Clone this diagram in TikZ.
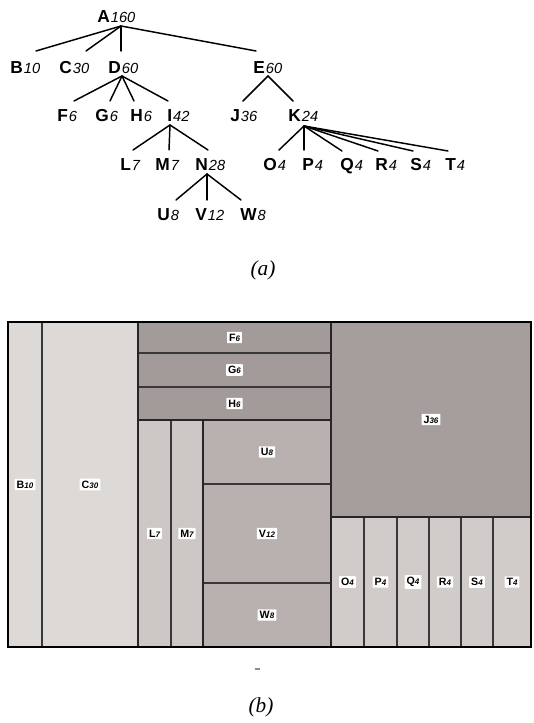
\documentclass[tikz,border=0pt]{standalone}
\usepackage{fontspec}
\setmainfont{Liberation Sans}
\newfontfamily\capfont{Liberation Serif}
\usetikzlibrary{calc}

\definecolor{cLight}{HTML}{DDD9D7}
\definecolor{cDark}{HTML}{A39B99}
\definecolor{cJ}{HTML}{A59E9C}
\definecolor{cLM}{HTML}{CDC7C5}
\definecolor{cUVW}{HTML}{B8B1AF}
\definecolor{cK}{HTML}{D1CBC9}

% tree label: bold capital followed by a smaller italic weight
\newcommand\tl[2]{\textbf{#1}\kern0.8pt{\fontsize{11}{11}\selectfont\itshape #2}}
% treemap label
\newcommand\ml[2]{\textbf{#1}{\fontsize{6}{6}\selectfont\itshape\bfseries #2}}
% treemap cell with centred label
\newcommand\tmcell[6]{%
  \draw[cell,fill=#5] (#1,#2) rectangle (#3,#4);
  \node[tmlab] at ({(#1+#3)/2},{(#2+#4)/2}) {#6};}

\tikzset{
  tn/.style={anchor=base west, inner sep=0pt, font=\fontsize{13}{13}\selectfont},
  edge/.style={line width=1.1pt, line cap=round},
  cell/.style={draw=black!78, line width=1pt},
  tmlab/.style={fill=white, inner sep=1.5pt, rounded corners=0.5pt,
                font=\fontsize{8}{8}\selectfont},
  caption/.style={font=\capfont\itshape\fontsize{16}{16}\selectfont, inner sep=0pt}
}

\begin{document}
\begin{tikzpicture}[x=0.75pt, y=-0.75pt]
\useasboundingbox (0,0) rectangle (533,723);

% ---------- tree ----------
\node[tn] (A) at (97,23) {\tl{A}{160}};
\node[tn] (B) at (10,74) {\tl{B}{10}};
\node[tn] (C) at (59,74) {\tl{C}{30}};
\node[tn] (D) at (108,74) {\tl{D}{60}};
\node[tn] (E) at (253,74) {\tl{E}{60}};
\node[tn] (F) at (57,122) {\tl{F}{6}};
\node[tn] (G) at (95,122) {\tl{G}{6}};
\node[tn] (H) at (130,122) {\tl{H}{6}};
\node[tn] (I) at (167,122) {\tl{I}{42}};
\node[tn] (J) at (230,122) {\tl{J}{36}};
\node[tn] (K) at (288,122) {\tl{K}{24}};
\node[tn] (L) at (120,171) {\tl{L}{7}};
\node[tn] (M) at (155,171) {\tl{M}{7}};
\node[tn] (N) at (195,171) {\tl{N}{28}};
\node[tn] (O) at (263,171) {\tl{O}{4}};
\node[tn] (P) at (302,171) {\tl{P}{4}};
\node[tn] (Q) at (340,171) {\tl{Q}{4}};
\node[tn] (R) at (375,171) {\tl{R}{4}};
\node[tn] (S) at (410,171) {\tl{S}{4}};
\node[tn] (T) at (445,171) {\tl{T}{4}};
\node[tn] (U) at (157,221) {\tl{U}{8}};
\node[tn] (V) at (195,221) {\tl{V}{12}};
\node[tn] (W) at (240,221) {\tl{W}{8}};

\draw[edge] ($(A.base west)+(24,3)$) -- ($(B.base west)+(26,-23)$);
\draw[edge] ($(A.base west)+(24,3)$) -- ($(C.base west)+(27,-23)$);
\draw[edge] ($(A.base west)+(24,3)$) -- ($(D.base west)+(13,-23)$);
\draw[edge] ($(A.base west)+(24,3)$) -- ($(E.base west)+(3,-23)$);

\draw[edge] ($(D.base west)+(14,2)$) -- ($(F.base west)+(17,-21)$);
\draw[edge] ($(D.base west)+(14,2)$) -- ($(G.base west)+(15,-21)$);
\draw[edge] ($(D.base west)+(14,2)$) -- ($(H.base west)+(4,-21)$);
\draw[edge] ($(D.base west)+(14,2)$) -- ($(I.base west)+(1,-21)$);

\draw[edge] ($(E.base west)+(15,2)$) -- ($(J.base west)+(13,-21)$);
\draw[edge] ($(E.base west)+(15,2)$) -- ($(K.base west)+(5,-21)$);

\draw[edge] ($(I.base west)+(3,3)$) -- ($(L.base west)+(13,-21)$);
\draw[edge] ($(I.base west)+(3,3)$) -- ($(M.base west)+(14,-21)$);
\draw[edge] ($(I.base west)+(3,3)$) -- ($(N.base west)+(13,-21)$);

\draw[edge] ($(K.base west)+(16,4)$) -- ($(O.base west)+(16,-21)$);
\draw[edge] ($(K.base west)+(16,4)$) -- ($(P.base west)+(2,-21)$);
\draw[edge] ($(K.base west)+(16,4)$) -- ($(Q.base west)+(2,-20)$);
\draw[edge] ($(K.base west)+(16,4)$) -- ($(R.base west)+(3,-20)$);
\draw[edge] ($(K.base west)+(16,4)$) -- ($(S.base west)+(3,-20)$);
\draw[edge] ($(K.base west)+(16,4)$) -- ($(T.base west)+(3,-20)$);

\draw[edge] ($(N.base west)+(12,3)$) -- ($(U.base west)+(19,-21)$);
\draw[edge] ($(N.base west)+(12,3)$) -- ($(V.base west)+(12,-21)$);
\draw[edge] ($(N.base west)+(12,3)$) -- ($(W.base west)+(1,-21)$);

\node[caption] (capA) at (263,270) {(a)};

% ---------- treemap ----------
\tmcell{8}{322}{42}{647}{cLight}{\ml{B}{10}}
\tmcell{42}{322}{138}{647}{cLight}{\ml{C}{30}}
\tmcell{138}{322}{331}{353}{cDark}{\ml{F}{6}}
\tmcell{138}{353}{331}{387}{cDark}{\ml{G}{6}}
\tmcell{138}{387}{331}{420}{cDark}{\ml{H}{6}}
\tmcell{138}{420}{171}{647}{cLM}{\ml{L}{7}}
\tmcell{171}{420}{203}{647}{cLM}{\ml{M}{7}}
\tmcell{203}{420}{331}{484}{cUVW}{\ml{U}{8}}
\tmcell{203}{484}{331}{583}{cUVW}{\ml{V}{12}}
\tmcell{203}{583}{331}{647}{cUVW}{\ml{W}{8}}
\tmcell{331}{322}{531}{517}{cJ}{\ml{J}{36}}
\tmcell{331}{517}{364}{647}{cK}{\ml{O}{4}}
\tmcell{364}{517}{397}{647}{cK}{\ml{P}{4}}
\tmcell{397}{517}{429}{647}{cK}{\ml{Q}{4}}
\tmcell{429}{517}{461}{647}{cK}{\ml{R}{4}}
\tmcell{461}{517}{493}{647}{cK}{\ml{S}{4}}
\tmcell{493}{517}{531}{647}{cK}{\ml{T}{4}}

% heavier group boundaries
\draw[line width=1.3pt, black!85] (138,322) -- (138,647);
\draw[line width=1.3pt, black!85] (331,322) -- (331,647);
\draw[line width=1.3pt, black!85] (203,420) -- (203,647);
\draw[line width=1.3pt, black!85] (138,420) -- (331,420);
\draw[line width=1.3pt, black!85] (331,517) -- (531,517);

% outer frame
\draw[line width=2.2pt, black] (8,322) rectangle (531,647);

\draw[line width=1.2pt, black!45] (254.5,669) -- (259.5,669);
\node[caption] (capB) at (261,707) {(b)};
\end{tikzpicture}
\end{document}
